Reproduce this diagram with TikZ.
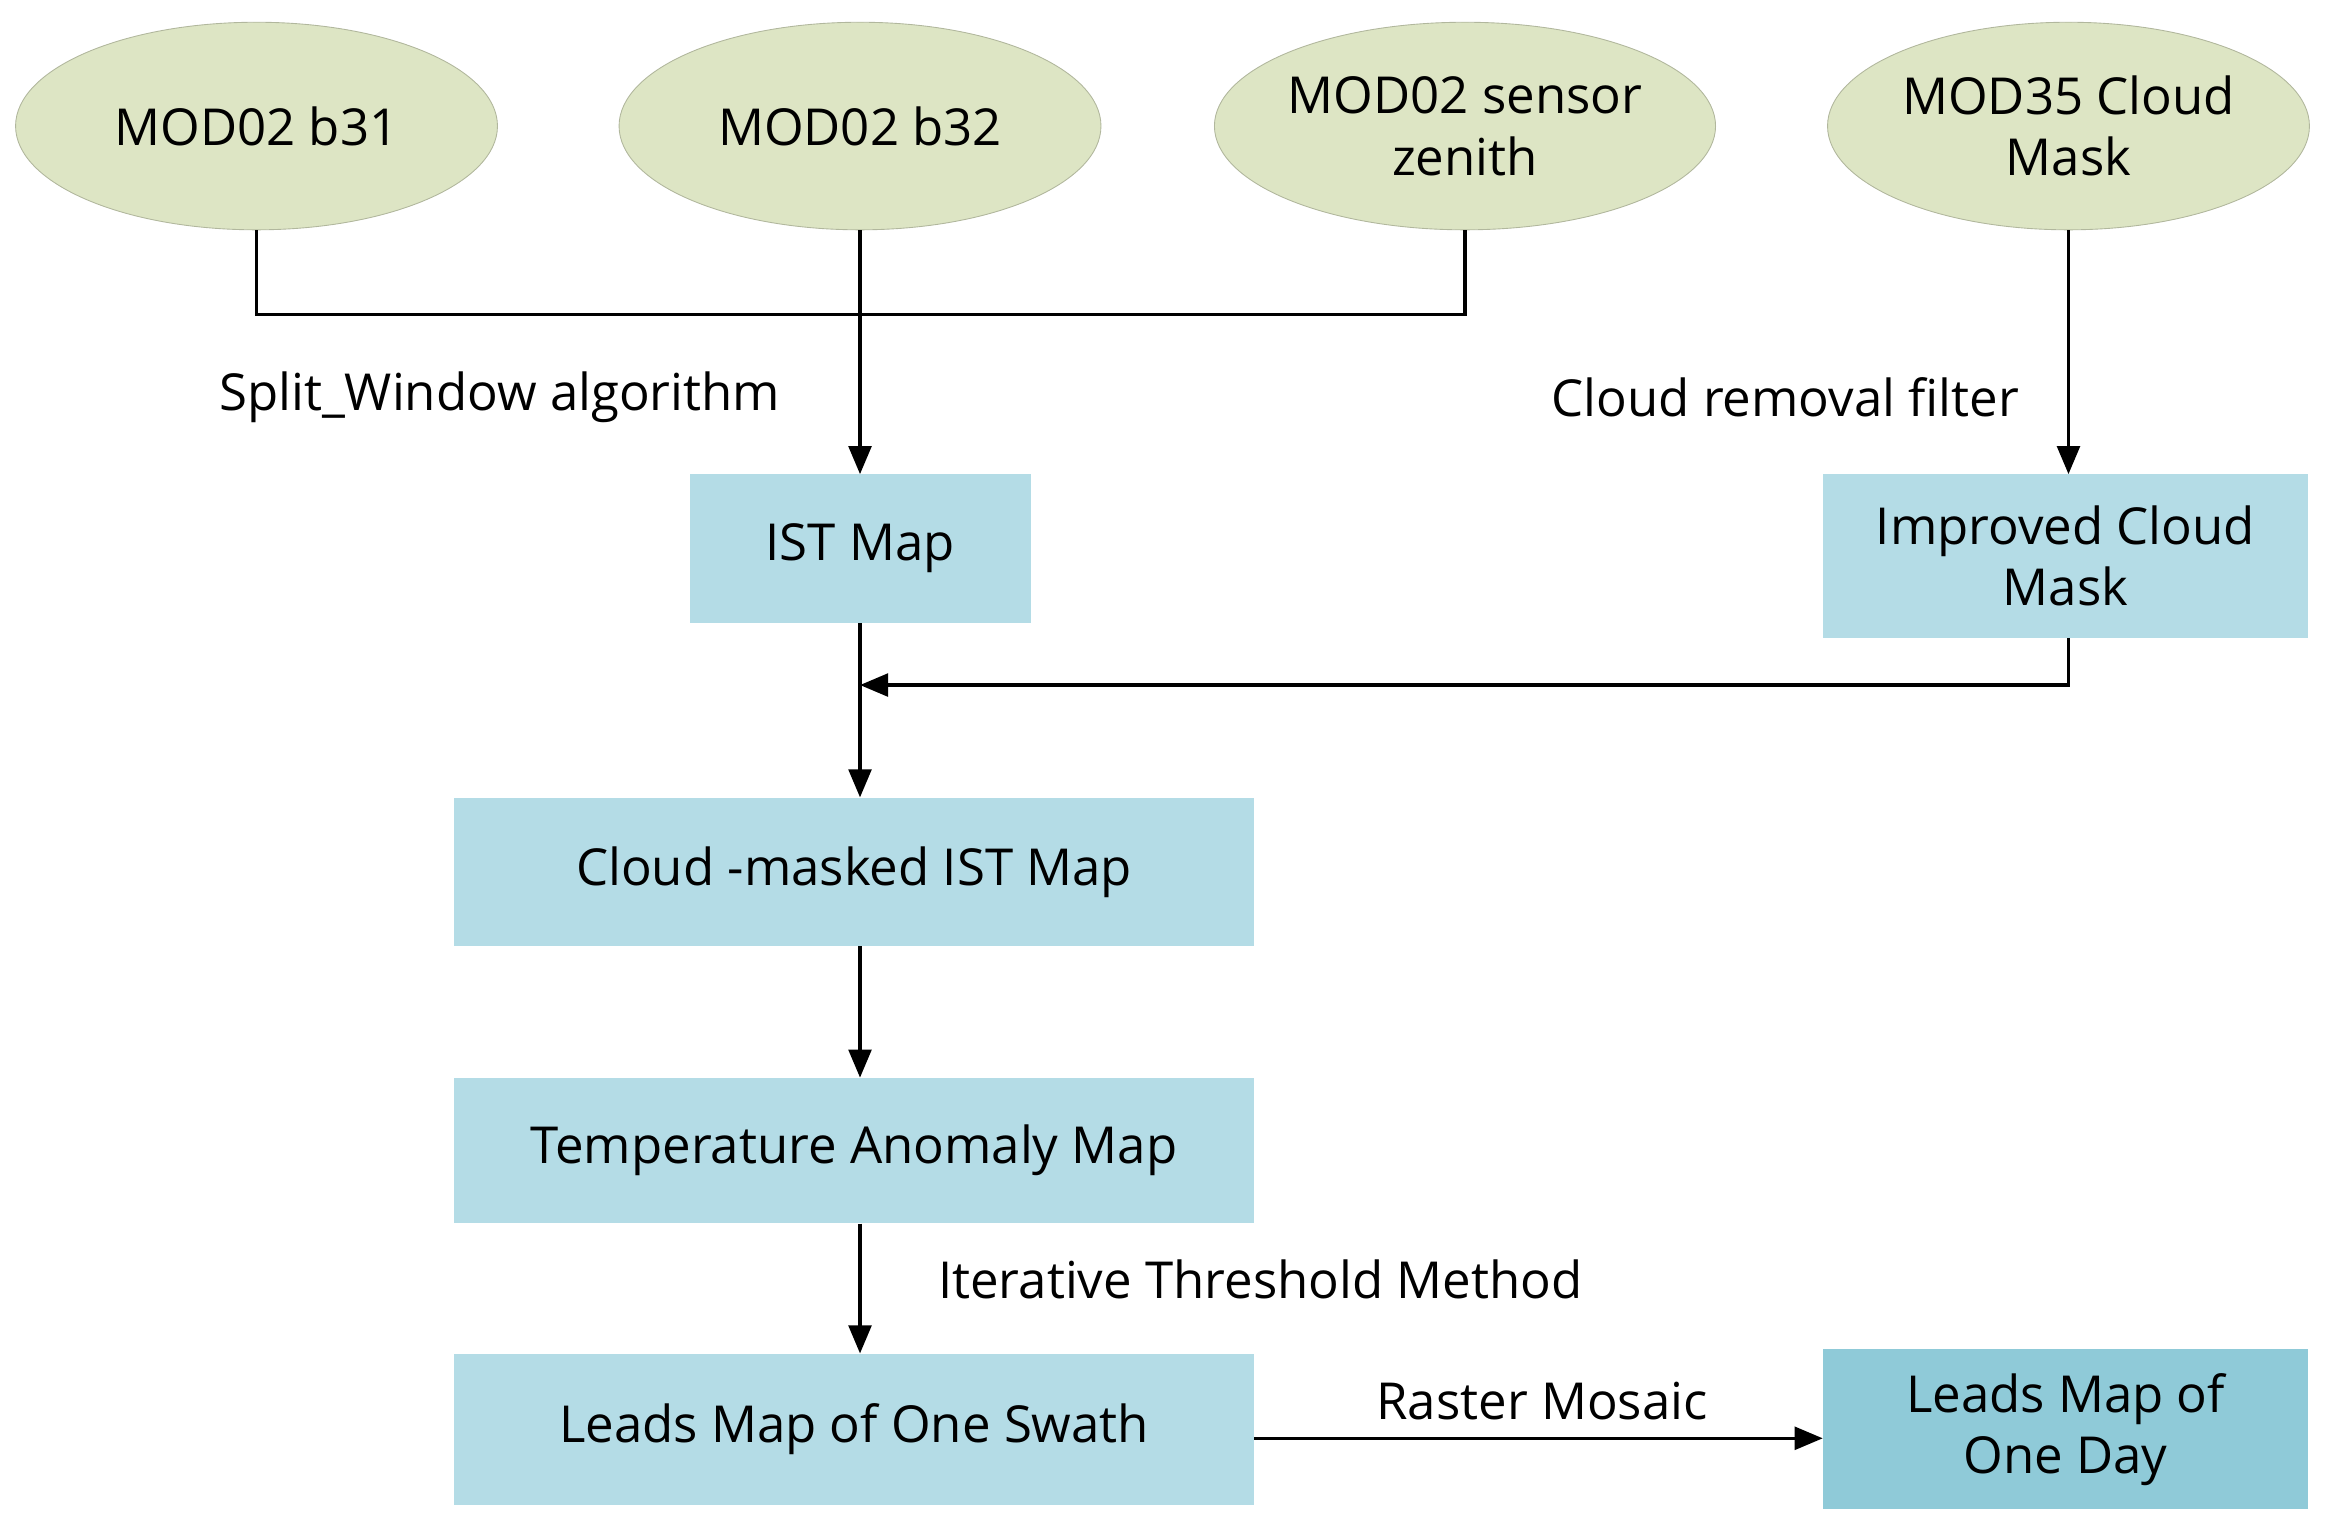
\documentclass[tikz,border=0pt]{standalone}
\usepackage{fontspec}
\setmainfont{Open Sans}
\usetikzlibrary{shapes.geometric,arrows.meta}
\definecolor{ell}{HTML}{DDE5C4}
\definecolor{bx}{HTML}{B4DCE6}
\definecolor{bxd}{HTML}{8FCAD8}
\begin{document}
\begin{tikzpicture}[x=0.02966cm,y=-0.02966cm,
  every node/.style={font=\fontsize{29}{35}\selectfont,align=center},
  el/.style={ellipse,fill=ell,draw=ell!80!black,line width=0.5pt,minimum width=325*0.02966cm,minimum height=140*0.02966cm,inner sep=0pt},
  bx/.style={rectangle,fill=bx,inner sep=0pt},
  ln/.style={line width=1.8pt},
  ar/.style={ln,-{Triangle[length=16pt,width=13pt]}}]
\useasboundingbox (0,0) rectangle (1568,1037);
\node[el] (b31) at (173,85) {MOD02 b31};
\node[el] (b32) at (580,85) {MOD02 b32};
\node[el] (zen) at (988,85) {MOD02 sensor\\zenith};
\node[el] (m35) at (1395,85) {MOD35 Cloud\\Mask};
\node[bx,minimum width=230*0.02966cm,minimum height=100*0.02966cm] (ist) at (580,370) {IST Map};
\node[bx,minimum width=327*0.02966cm,minimum height=110*0.02966cm] (icm) at (1393,375) {Improved Cloud\\Mask};
\node[bx,minimum width=539*0.02966cm,minimum height=100*0.02966cm] (cm) at (576,588) {Cloud -masked IST Map};
\node[bx,minimum width=539*0.02966cm,minimum height=98*0.02966cm] (ta) at (576,776) {Temperature Anomaly Map};
\node[bx,minimum width=539*0.02966cm,minimum height=102*0.02966cm] (sw) at (576,964) {Leads Map of One Swath};
\node[rectangle,fill=bxd,inner sep=0pt,minimum width=327*0.02966cm,minimum height=108*0.02966cm] (day) at (1393,964) {Leads Map of\\One Day};
\coordinate (j1) at (173,212);
\coordinate (j2) at (988,212);
\coordinate (j3) at (1395,462);
\coordinate (j4) at (580,462);
\draw[ln] (b31.south) -- (j1) -- (j2) -- (zen.south);
\draw[ar] (b32.south) -- (ist.north);
\draw[ar] (m35.south) -- (icm.north -| m35.south);
\draw[ar] (icm.south -| j3) -- (j3) -- (j4);
\draw[ar] (ist.south) -- (cm.north -| ist.south);
\draw[ar] (cm.south -| ist.south) -- (ta.north -| ist.south);
\draw[ar] (ta.south -| ist.south) -- (sw.north -| ist.south);
\draw[ar] (sw.east) ++(0,6) coordinate (s1) -- (s1 -| day.west);
\node (l1) at (337,268) {Split\_Window algorithm};
\node (l2) at (1204,268) {Cloud removal filter};
\node (l3) at (850,863) {Iterative Threshold Method};
\node (l4) at (1040,945) {Raster Mosaic};
\end{tikzpicture}
\end{document}
